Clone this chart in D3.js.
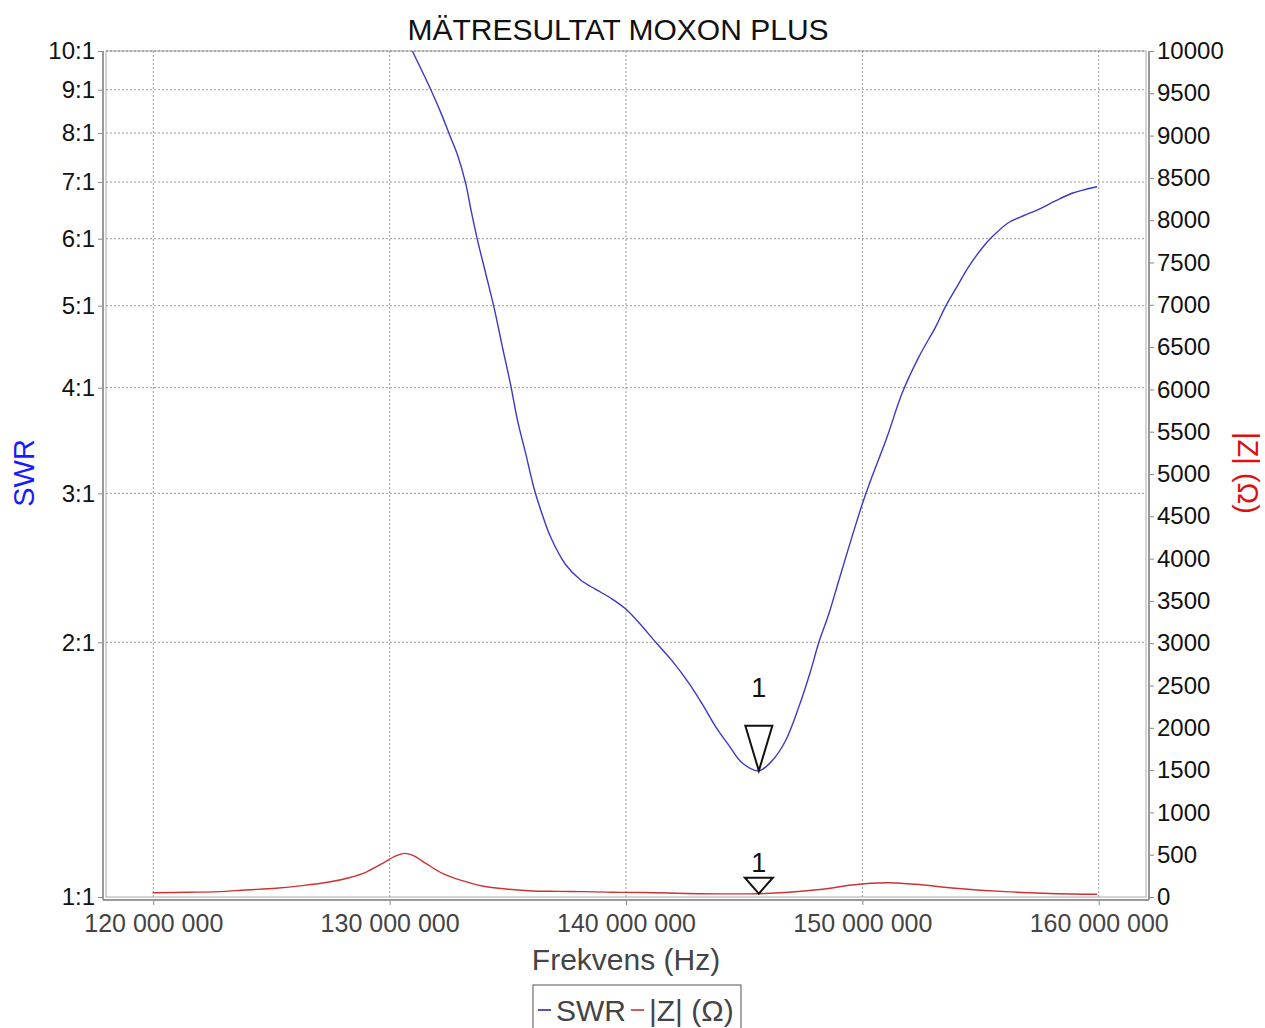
<!DOCTYPE html>
<html>
<head>
<meta charset="utf-8">
<script src="https://cdn.jsdelivr.net/npm/d3@7"></script>
<style>
  body { margin: 0; padding: 0; background: #fff; }
  svg { display: block; font-family: 'Liberation Sans', Arial, sans-serif; }
  .grid line { stroke: #9a9a9a; stroke-dasharray: 2,2; stroke-width: 1; }
  .axis path { display: none; }
  .axis line { stroke: #888; }
</style>
</head>
<body>
<svg id="chart" width="1265" height="1028"></svg>
<script>
// frequency in MHz, SWR
const swrFreq = [130.96, 131.67, 132.17, 132.52, 132.87, 133.22, 133.43, 133.71, 134.07, 134.42,
  134.77, 135.12, 135.40, 135.76, 136.11, 136.46, 136.82, 137.45, 138.08, 138.72,
  139.42, 139.99, 140.55, 141.26, 141.96, 142.66, 143.23, 143.79, 144.36, 144.92,
  145.62, 146.19, 146.75, 147.32, 147.81, 148.16, 148.58, 149.01, 149.57, 149.99,
  150.41, 151.05, 151.68, 152.39, 153.10, 153.52, 154.01, 154.50, 155.07, 155.49,
  156.19, 156.90, 157.46, 158.17, 158.87, 159.44, 159.93]
const swrValues = [10.0, 9.09, 8.45, 7.98, 7.54, 6.97, 6.51, 5.99, 5.45, 4.97,
  4.47, 4.03, 3.67, 3.34, 3.04, 2.83, 2.66, 2.47, 2.37, 2.31,
  2.25, 2.19, 2.11, 2.00, 1.90, 1.79, 1.69, 1.59, 1.51, 1.44,
  1.41, 1.45, 1.53, 1.68, 1.85, 2.00, 2.16, 2.37, 2.67, 2.91,
  3.14, 3.50, 3.94, 4.35, 4.72, 4.99, 5.27, 5.56, 5.85, 6.03,
  6.27, 6.40, 6.50, 6.65, 6.79, 6.86, 6.91]

// |Z| in ohm, red trace
const zFreq = [119.97, 121.52, 122.79, 123.92, 125.19, 126.31, 127.44, 128.29, 128.99, 129.70,
  130.26, 130.61, 130.96, 131.53, 132.23, 133.08, 133.92, 135.05, 136.04, 137.17,
  138.15, 139.42, 140.80, 143.09, 145.62, 146.89, 148.30, 149.57, 150.98, 152.25,
  153.94, 156.06, 158.87, 159.93]
const zValues = [51, 56, 63, 83, 103, 134, 177, 228, 292, 398,
  485, 516, 496, 398, 280, 193, 130, 91, 71, 67,
  63, 56, 53, 39, 39, 56, 91, 142, 169, 150,
  103, 63, 35, 32]

const freqTicks = [120e6, 130e6, 140e6, 150e6, 160e6]
const swrTicks = [1, 2, 3, 4, 5, 6, 7, 8, 9, 10]
const zTicks = d3.range(0, 10001, 500)

// marker 1
const markerFreq = [145.62]
const markerSwr = [1.41]
const markerZ = [39]

const plot = {left: 106, right: 1146, top: 51, bottom: 897}

const x = d3.scaleLinear().domain([118e6, 162e6]).range([plot.left, plot.right])
const yL = d3.scaleLog().domain([1, 10]).range([plot.bottom, plot.top])
const yR = d3.scaleLinear().domain([0, 10000]).range([plot.bottom, plot.top])

const svg = d3.select('#chart')

svg.append('defs').append('clipPath').attr('id', 'clip')
  .append('rect')
  .attr('x', plot.left).attr('y', plot.top)
  .attr('width', plot.right - plot.left).attr('height', plot.bottom - plot.top)

// grid
const grid = svg.append('g').attr('class', 'grid')
grid.selectAll('line.v').data(freqTicks).enter().append('line')
  .attr('x1', d => x(d)).attr('x2', d => x(d))
  .attr('y1', plot.top).attr('y2', plot.bottom)
grid.selectAll('line.h').data(swrTicks.slice(1)).enter().append('line')
  .attr('x1', plot.left).attr('x2', plot.right)
  .attr('y1', d => yL(d)).attr('y2', d => yL(d))
  .style('stroke', d => d === 10 ? '#555' : null)

// frame: thin inner border plus offset axis lines
svg.append('rect')
  .attr('x', plot.left).attr('y', plot.top)
  .attr('width', plot.right - plot.left).attr('height', plot.bottom - plot.top)
  .attr('fill', 'none').attr('stroke', '#aaa')
svg.append('line').attr('x1', plot.left - 3).attr('x2', plot.left - 3)
  .attr('y1', plot.top).attr('y2', plot.bottom + 3).attr('stroke', '#999').attr('stroke-width', 2)
svg.append('line').attr('x1', plot.right + 3).attr('x2', plot.right + 3)
  .attr('y1', plot.top).attr('y2', plot.bottom + 3).attr('stroke', '#999').attr('stroke-width', 2)
svg.append('line').attr('x1', plot.left - 3).attr('x2', plot.right + 3)
  .attr('y1', plot.bottom + 3).attr('y2', plot.bottom + 3).attr('stroke', '#999').attr('stroke-width', 2)

// axes
const fmtHz = d => d3.format(',')(d).replace(/,/g, ' ')

const xAxis = svg.append('g').attr('class', 'axis')
  .attr('transform', `translate(0, ${plot.bottom + 4})`)
  .call(d3.axisBottom(x).tickValues(freqTicks).tickFormat(fmtHz).tickSize(4).tickPadding(9))
xAxis.selectAll('text').attr('font-size', 25).attr('fill', '#444')
  .attr('font-family', "'Liberation Sans', Arial, sans-serif")

const lAxis = svg.append('g').attr('class', 'axis')
  .attr('transform', `translate(${plot.left - 4}, 0)`)
  .call(d3.axisLeft(yL).tickValues(swrTicks).tickFormat(d => d + ':1').tickSize(4).tickPadding(3))
lAxis.selectAll('text').attr('font-size', 24).attr('fill', '#111')
  .attr('font-family', "'Liberation Sans', Arial, sans-serif")

const rAxis = svg.append('g').attr('class', 'axis')
  .attr('transform', `translate(${plot.right + 4}, 0)`)
  .call(d3.axisRight(yR).tickValues(zTicks).tickFormat(d3.format('d')).tickSize(4).tickPadding(3))
rAxis.selectAll('text').attr('font-size', 24).attr('fill', '#111')
  .attr('font-family', "'Liberation Sans', Arial, sans-serif")

// series
const swrData = swrFreq.map((f, i) => [f * 1e6, swrValues[i]])
const zData = zFreq.map((f, i) => [f * 1e6, zValues[i]])

const series = svg.append('g').attr('clip-path', 'url(#clip)')
series.append('path').datum(zData)
  .attr('fill', 'none').attr('stroke', '#cc3333').attr('stroke-width', 1.4)
  .attr('d', d3.line().x(d => x(d[0])).y(d => yR(d[1])).curve(d3.curveCatmullRom.alpha(0.5)))
series.append('path').datum(swrData)
  .attr('fill', 'none').attr('stroke', '#3a3ac4').attr('stroke-width', 1.4)
  .attr('d', d3.line().x(d => x(d[0])).y(d => yL(d[1])).curve(d3.curveCatmullRom.alpha(0.5)))

// markers
const mx = x(markerFreq[0] * 1e6)
const mySwr = yL(markerSwr[0])
const myZ = yR(markerZ[0])
const tri = (px, py, h, w) => `M${px},${py} L${px - w},${py - h} L${px + w},${py - h} Z`
svg.append('path').attr('d', tri(mx, mySwr, 45, 13.5))
  .attr('fill', 'none').attr('stroke', '#111').attr('stroke-width', 2)
svg.append('text').attr('x', mx).attr('y', mySwr - 74).attr('text-anchor', 'middle')
  .attr('font-size', 27).attr('fill', '#111').text('1')
svg.append('path').attr('d', tri(mx, myZ, 16, 14))
  .attr('fill', 'none').attr('stroke', '#111').attr('stroke-width', 2)
svg.append('text').attr('x', mx).attr('y', myZ - 22).attr('text-anchor', 'middle')
  .attr('font-size', 27).attr('fill', '#111').text('1')

// titles
svg.append('text').attr('x', 618).attr('y', 40).attr('text-anchor', 'middle')
  .attr('font-size', 30).attr('fill', '#111').text('MÄTRESULTAT MOXON PLUS')
svg.append('text').attr('x', 626).attr('y', 970).attr('text-anchor', 'middle')
  .attr('font-size', 30).attr('fill', '#444').text('Frekvens (Hz)')
svg.append('text').attr('transform', 'translate(34, 473) rotate(-90)').attr('text-anchor', 'middle')
  .attr('font-size', 29).attr('fill', '#1a1aff').text('SWR')
svg.append('text').attr('transform', 'translate(1238, 473) rotate(90)').attr('text-anchor', 'middle')
  .attr('font-size', 29).attr('fill', '#e01010').text('|Z| (Ω)')

// legend
const legend = svg.append('g').attr('transform', 'translate(533, 985)')
legend.append('rect').attr('width', 208).attr('height', 50)
  .attr('fill', '#fff').attr('stroke', '#555')
const items = [{label: 'SWR', color: '#1a1a9a'}, {label: '|Z| (Ω)', color: '#cc2222'}]
let lx = 5
items.forEach(it => {
  legend.append('line').attr('x1', lx).attr('x2', lx + 13).attr('y1', 25).attr('y2', 25)
    .attr('stroke', it.color).attr('stroke-width', 1.5)
  const t = legend.append('text').attr('x', lx + 18).attr('y', 36)
    .attr('font-size', 30).attr('fill', '#444').text(it.label)
  lx += 18 + t.node().getComputedTextLength() + 5
})
</script>
</body>
</html>
